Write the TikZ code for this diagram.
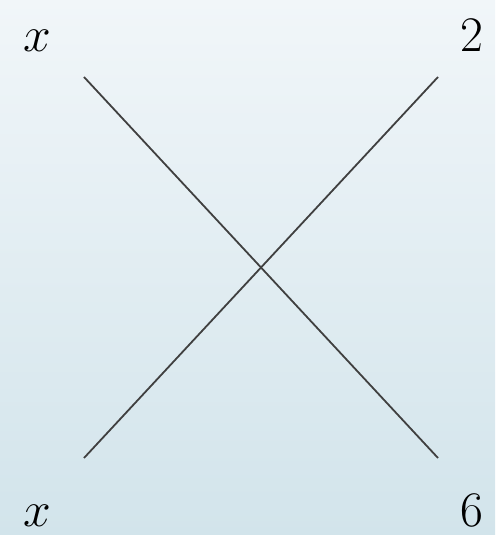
\documentclass[tikz,border=0pt]{standalone}
\definecolor{bgtop}{RGB}{241,246,249}
\definecolor{bgbottom}{RGB}{210,228,235}
\definecolor{linegray}{RGB}{64,64,64}
\begin{document}
\begin{tikzpicture}[x=0.5pt, y=0.5pt, line width=0.9pt,
    lbl/.style={inner sep=0pt, font=\fontsize{34}{38}\selectfont}]
    \useasboundingbox (0,0) rectangle (495,535);
    \shade[top color=bgtop, bottom color=bgbottom] (0,0) rectangle (495,535);

    \coordinate (TL) at (84,458);
    \coordinate (TR) at (438,458);
    \coordinate (BL) at (84,77);
    \coordinate (BR) at (438,77);

    \node[lbl, anchor=base] (xtop) at (37,483) {$x$};
    \node[lbl, anchor=base west] (two) at (460,483) {$2$};
    \node[lbl, anchor=base] (xbot) at (37,9) {$x$};
    \node[lbl, anchor=base west] (six) at (460,9) {$6$};

    \draw[linegray] (TL) -- (BR);
    \draw[linegray] (TR) -- (BL);
\end{tikzpicture}
\end{document}
